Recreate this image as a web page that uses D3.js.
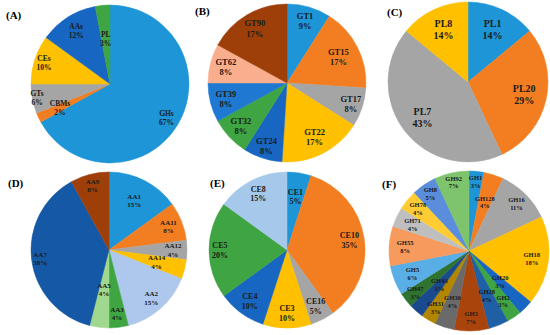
<!DOCTYPE html>
<meta charset="utf-8">
<script src="https://d3js.org/d3.v7.min.js"></script>
<style>
  body { margin: 0; background: #fff; }
  .lbl { font-family: "Liberation Serif", "Times New Roman", serif; font-weight: bold; fill: #1a1a1a; }
  .panel { font-family: "Liberation Serif", "Times New Roman", serif; font-weight: bold; font-size: 11px; fill: #000; }
</style>
<div id="my_dataviz"></div>
<script>
// data (percent of each family)
var catsA = ["GHs", "CBMs", "GTs", "CEs", "AAs", "PL"];
var valsA = [67, 2, 6, 10, 12, 3];

var catsB = ["GT1", "GT15", "GT17", "GT22", "GT24", "GT32", "GT39", "GT62", "GT90"];
var valsB = [9, 17, 8, 17, 8, 8, 8, 8, 17];

var catsC = ["PL1", "PL20", "PL7", "PL8"];
var valsC = [14, 29, 43, 14];

var catsD = ["AA1", "AA11", "AA12", "AA14", "AA2", "AA3", "AA5", "AA7", "AA9"];
var valsD = [15, 8, 4, 4, 15, 4, 4, 38, 8];

var catsE = ["CE1", "CE10", "CE16", "CE3", "CE4", "CE5", "CE8"];
var valsE = [5, 35, 5, 10, 10, 20, 15];

var catsF = ["GH1", "GH128", "GH16", "GH18", "GH20", "GH2", "GH28", "GH3", "GH30",
             "GH31", "GH43", "GH47", "GH5", "GH55", "GH71", "GH78", "GH8", "GH92"];
var valsF = [3, 4, 11, 18, 3, 3, 4, 7, 4, 3, 3, 3, 6, 8, 4, 4, 5, 7];

// colours
var blue = "#1e95d7", orange = "#f37e22", gray = "#a5a5a5", gold = "#ffc000",
    blue2 = "#1766c2", green = "#3fa442";

var panels = [
  { tag: "(A)", tx: 6, ty: 19, cx: 110, cy: 84, r: 79, cats: catsA, vals: valsA, fs: 7.5, rf: 0.8,
    rfx: { GHs: 0.83, CBMs: 0.7, GTs: 0.94, CEs: 0.88, PL: 0.58 },
    colors: [blue, orange, gray, gold, blue2, green] },
  { tag: "(B)", tx: 195, ty: 15, cx: 287, cy: 83, r: 79, cats: catsB, vals: valsB, fs: 8.5, rf: 0.8,
    rfx: { GT1: 0.82, GT15: 0.73, GT17: 0.85, GT22: 0.77, GT24: 0.84 },
    colors: [blue, orange, gray, gold, blue2, green, "#1f78d1", "#f9ae8e", "#9e3f0a"] },
  { tag: "(C)", tx: 387, ty: 16, cx: 468, cy: 82, r: 80, cats: catsC, vals: valsC, fs: 10, rf: 0.72,
    rfx: {},
    colors: [blue, orange, gray, gold] },
  { tag: "(D)", tx: 8, ty: 187, cx: 109, cy: 250, r: 78, cats: catsD, vals: valsD, fs: 7, rf: 0.82,
    rfx: { AA1: 0.71, AA14: 0.63, AA5: 0.51, AA7: 0.89, AA9: 0.85 },
    colors: [blue, orange, gray, gold, "#adc8ec", green, "#a0d88f", "#1559a6", "#9e3f0a"] },
  { tag: "(E)", tx: 210, ty: 187, cx: 287, cy: 250, r: 78, cats: catsE, vals: valsE, fs: 8, rf: 0.81,
    rfx: { CE1: 0.69, CE5: 0.86 },
    colors: [blue, orange, gray, gold, blue2, green, "#a6c8ea"] },
  { tag: "(F)", tx: 382, ty: 188, cx: 469, cy: 251, r: 80, cats: catsF, vals: valsF, fs: 6.5, rf: 0.8,
    rfx: { GH1: 0.87, GH128: 0.64, GH16: 0.84, GH18: 0.79, GH20: 0.55, GH2: 0.76, GH28: 0.6,
           GH3: 0.83, GH30: 0.67, GH31: 0.82, GH43: 0.56, GH47: 0.85, GH5: 0.76, GH71: 0.78,
           GH78: 0.83, GH8: 0.86, GH92: 0.88 },
    colors: [blue, orange, gray, gold, blue2, green, "#1f5fa6", "#a9450c", "#6a6a6a",
             "#b38600", "#1a4a8e", "#2e7430", "#5aaee6", "#f79a5d", "#bfbfbf", "#ffcd33",
             "#5a8ddb", "#7dc46c"] }
];

var svg = d3.select("#my_dataviz")
    .append("svg")
    .attr("width", 550)
    .attr("height", 335);

svg.append("rect").attr("width", 550).attr("height", 335).attr("fill", "#fff");

var pie = d3.pie().sort(null).value(function (d) { return d.v; });

panels.forEach(function (p) {
    var data = p.cats.map(function (c, i) { return { c: c, v: p.vals[i] }; });
    var arcs = pie(data);
    var color = d3.scaleOrdinal().domain(p.cats).range(p.colors);
    var arc = d3.arc().innerRadius(0).outerRadius(p.r);

    var g = svg.append("g")
        .attr("transform", "translate(" + p.cx + "," + p.cy + ")");

    g.selectAll("path")
        .data(arcs)
        .enter()
        .append("path")
        .attr("d", arc)
        .attr("fill", function (d) { return color(d.data.c); })
        .attr("stroke", function (d) { return color(d.data.c); })
        .attr("stroke-width", 0.5);

    // labels: name on first line, percent below
    var lh = p.fs * 1.2;
    var txt = g.selectAll("text.lbl")
        .data(arcs)
        .enter()
        .append("text")
        .attr("class", "lbl")
        .style("font-size", p.fs + "px")
        .attr("text-anchor", "middle")
        .attr("transform", function (d) {
            var f = p.rfx[d.data.c] !== undefined ? p.rfx[d.data.c] : p.rf;
            var la = d3.arc().innerRadius(p.r * f).outerRadius(p.r * f);
            var c = la.centroid(d);
            return "translate(" + c[0] + "," + c[1] + ")";
        });
    txt.append("tspan")
        .attr("x", 0)
        .attr("dy", -lh / 2 + p.fs * 0.35)
        .text(function (d) { return d.data.c; });
    txt.append("tspan")
        .attr("x", 0)
        .attr("dy", lh)
        .text(function (d) { return d.data.v + "%"; });

    svg.append("text")
        .attr("class", "panel")
        .attr("x", p.tx)
        .attr("y", p.ty)
        .text(p.tag);
});
</script>
